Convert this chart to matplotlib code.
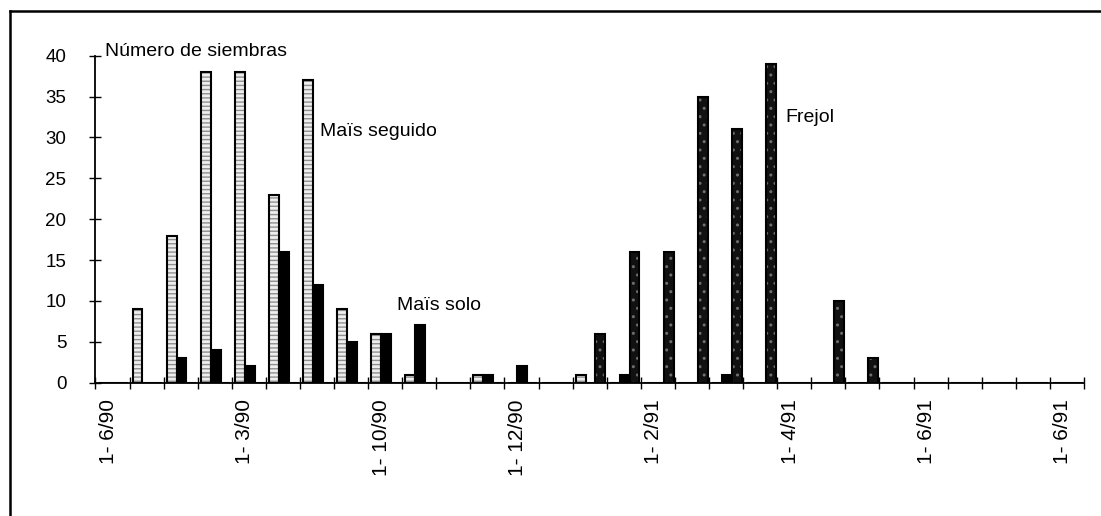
import numpy as np
import matplotlib
matplotlib.use("Agg")
import matplotlib.pyplot as plt
from matplotlib.lines import Line2D

plt.rcParams['font.family'] = ['Liberation Sans', 'DejaVu Sans']

# half-month periods, from 1-6/90 onwards
n_periods = 29
tick_labels = ["1- 6/90", "1- 3/90", "1- 10/90", "1- 12/90",
               "1- 2/91", "1- 4/91", "1- 6/91", "1- 6/91"]

# number of sowings per period
mais_seguido = [0, 9, 18, 38, 38, 23, 37, 9, 6, 1, 0, 1, 0, 0, 1,
                0, 0, 0, 0, 0, 0, 0, 0, 0, 0, 0, 0, 0, 0]
mais_solo = [0, 0, 3, 4, 2, 16, 12, 5, 6, 7, 0, 1, 2, 0, 0,
             1, 0, 0, 1, 0, 0, 0, 0, 0, 0, 0, 0, 0, 0]
frejol = [0, 0, 0, 0, 0, 0, 0, 0, 0, 0, 0, 0, 0, 0, 6,
          16, 16, 35, 31, 39, 0, 10, 3, 0, 0, 0, 0, 0, 0]

fig = plt.figure(figsize=(11.01, 5.16), dpi=100)
ax = fig.add_axes([0.0867, 0.2583, 0.8978, 0.6337])

x = np.arange(n_periods)
w = 0.29

# Maïs seguido: light hatched bars
ax.bar(x + 0.09, mais_seguido, w, align='edge', color='#eeeeee',
       hatch='----', edgecolor='#8f8f8f', linewidth=0)
ax.bar(x + 0.09, mais_seguido, w, align='edge', fill=False,
       edgecolor='black', linewidth=1.5)

# Maïs solo: solid black
ax.bar(x + 0.38, mais_solo, w, align='edge', color='black',
       edgecolor='black', linewidth=1.5)

# Frejol: black with light speckle
ax.bar(x + 0.67, frejol, w, align='edge', color='#111111',
       hatch='..', edgecolor='#6e6e6e', linewidth=0)
ax.bar(x + 0.67, frejol, w, align='edge', fill=False,
       edgecolor='black', linewidth=1.5)

ax.set_xlim(0, n_periods)
ax.set_ylim(0, 40)

for s in ['top', 'right']:
    ax.spines[s].set_visible(False)
for s in ['left', 'bottom']:
    ax.spines[s].set_linewidth(1.3)

ax.set_yticks(np.arange(0, 41, 5))
ax.tick_params(axis='y', direction='inout', length=8, width=1,
               pad=17, labelsize=13.5)

# period boundaries as small ticks, dates a bit to the right
ax.set_xticks(np.arange(n_periods + 1), minor=True)
ax.tick_params(axis='x', which='minor', direction='inout', length=8, width=1)
ax.set_xticks(np.arange(0, n_periods, 4) + 0.38)
ax.set_xticklabels(tick_labels, rotation=90, va='top', ha='center',
                   family=['Liberation Sans Narrow', 'Liberation Sans'],
                   fontsize=15)
ax.tick_params(axis='x', which='major', length=0, pad=12)

ax.text(0.29, 40.5, "Número de siembras", fontsize=14, va='center',
        clip_on=False)
ax.text(6.6, 30.7, "Maïs seguido", fontsize=14, va='center')
ax.text(8.86, 9.4, "Maïs solo", fontsize=14, va='center')
ax.text(20.23, 32.5, "Frejol", fontsize=14, va='center')

# frame of the scanned figure (top and left edges)
fig.add_artist(Line2D([10 / 1101, 1.0], [1 - 11 / 516, 1 - 11 / 516],
                      transform=fig.transFigure, color='black', linewidth=1.8))
fig.add_artist(Line2D([10 / 1101, 10 / 1101], [0.0, 1 - 11 / 516],
                      transform=fig.transFigure, color='black', linewidth=1.8))

fig.savefig("out.png", dpi=100)
